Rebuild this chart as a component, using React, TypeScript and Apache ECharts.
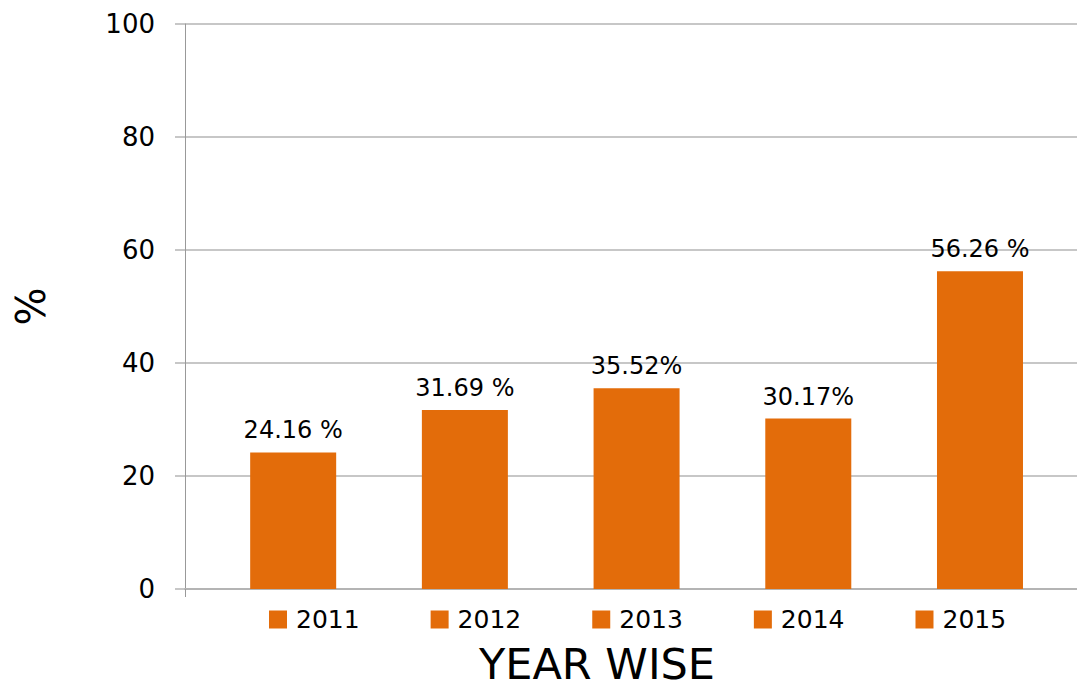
import React, { useEffect, useRef } from "react";
import * as echarts from "echarts";

const years = ["2011", "2012", "2013", "2014", "2015"];
const values = [24.16, 31.69, 35.52, 30.17, 56.26];
const valueLabels = ["24.16 %", "31.69 %", "35.52%", "30.17%", "56.26 %"];
const yTicks = [0, 20, 40, 60, 80, 100];

const FONT = "DejaVu Sans";
const BAR = "#E36C0A";

export default function App() {
  const ref = useRef<HTMLDivElement>(null);
  useEffect(() => {
    if (!ref.current) return;
    const chart = echarts.init(ref.current, null, { renderer: "svg" });
    const xMin = 0.37;
    const xMax = 5.565;
    const series = years.map((y, i) => ({
      name: y,
      type: "bar",
      stack: "all",
      barWidth: 86,
      itemStyle: { color: BAR },
      data: [[i + 1, values[i]]],
      label: {
        show: true,
        position: "top",
        distance: 10,
        formatter: () => valueLabels[i],
        fontFamily: FONT,
        fontSize: 24,
        color: "#000",
      },
    }));
    chart.setOption({
      animation: false,
      backgroundColor: "#fff",
      grid: {
        left: 185,
        right: 0,
        top: 24,
        bottom: 99,
        containLabel: false,
        outerBoundsMode: "none",
      },
      legend: {
        data: years,
        left: 269,
        top: 607,
        padding: 0,
        icon: "rect",
        itemWidth: 18,
        itemHeight: 18,
        itemGap: 71,
        textStyle: { fontFamily: FONT, fontSize: 25, color: "#000", padding: [0, 0, 0, 4] },
        selectedMode: false,
      },
      xAxis: {
        type: "value",
        min: xMin,
        max: xMax,
        splitLine: { show: false },
        axisLabel: { show: false },
        axisLine: { show: true, onZero: false, lineStyle: { color: "#B4B4B4", width: 2 } },
        axisTick: {
          show: true,
          customValues: [xMin],
          length: 8,
          lineStyle: { color: "#999999", width: 1 },
        },
      },
      yAxis: {
        type: "value",
        min: yTicks[0],
        max: yTicks[yTicks.length - 1],
        interval: 20,
        name: "%",
        nameLocation: "middle",
        nameRotate: 90,
        nameGap: 134,
        nameTextStyle: { fontFamily: FONT, fontSize: 40, color: "#000" },
        axisLine: { show: true, lineStyle: { color: "#999999", width: 1 } },
        axisTick: { show: true, length: 10, lineStyle: { color: "#B4B4B4", width: 1.5 } },
        splitLine: { show: true, lineStyle: { color: "#B4B4B4", width: 1.5 } },
        axisLabel: { fontFamily: FONT, fontSize: 26, color: "#000", margin: 30 },
      },
      graphic: [
        {
          type: "text",
          x: 597,
          y: 664,
          style: {
            text: "YEAR WISE",
            fontFamily: FONT,
            fontSize: 43,
            fill: "#000",
            align: "center",
            verticalAlign: "middle",
          },
        },
      ],
      series,
    });
    return () => chart.dispose();
  }, []);
  return (
    <div
      ref={ref}
      style={{ position: "fixed", left: 0, top: 0, width: 1077, height: 688, background: "#fff" }}
    />
  );
}
